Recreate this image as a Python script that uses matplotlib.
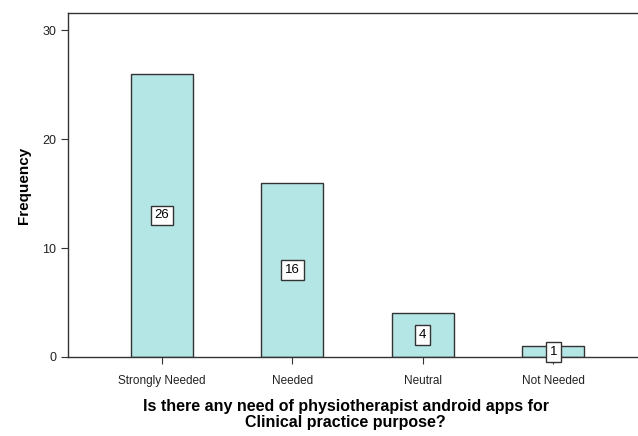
import matplotlib.pyplot as plt

categories = ["Strongly Needed", "Needed", "Neutral", "Not Needed"]
counts = [26, 16, 4, 1]

plt.rcParams['font.family'] = ['Liberation Sans', 'DejaVu Sans']

fig = plt.figure(figsize=(6.38, 4.36), dpi=100)
ax = fig.add_axes([0.1066, 0.1812, 0.8934, 0.7890])

x = list(range(len(categories)))
bars = ax.bar(x, counts, width=0.475, color='#b4e6e6', edgecolor='#333333', linewidth=1.0, zorder=2)

# value labels in the middle of each bar
for xi, c in zip(x, counts):
    ax.text(xi, c / 2, str(c), ha='center', va='center', fontsize=9.5, zorder=3,
            bbox=dict(boxstyle='square,pad=0.3', facecolor='white', edgecolor='#333333', linewidth=1.0))

ax.set_xlim(-0.72, 3.65)
ax.set_ylim(0, 31.6)
ax.set_yticks([0, 10, 20, 30])
ax.set_xticks(x)
ax.set_xticklabels(categories, fontsize=8.5)
ax.tick_params(axis='y', labelsize=9, length=5, color='#333333', labelcolor='#222222')
ax.tick_params(axis='x', length=5, pad=8, color='#333333', labelcolor='#222222')

for s in ['left', 'bottom', 'top']:
    ax.spines[s].set_color('#333333')
    ax.spines[s].set_linewidth(1.0)
ax.spines['right'].set_visible(False)

ax.set_ylabel("Frequency", fontsize=11, fontweight='bold', labelpad=8)
ax.set_xlabel("Is there any need of physiotherapist android apps for\nClinical practice purpose?",
              fontsize=11.5, fontweight='bold', linespacing=1.1)
ax.xaxis.set_label_coords(0.487, -0.122, transform=ax.transAxes)
ax.xaxis.label.set_va('top')

fig.savefig("out.png", dpi=100)
